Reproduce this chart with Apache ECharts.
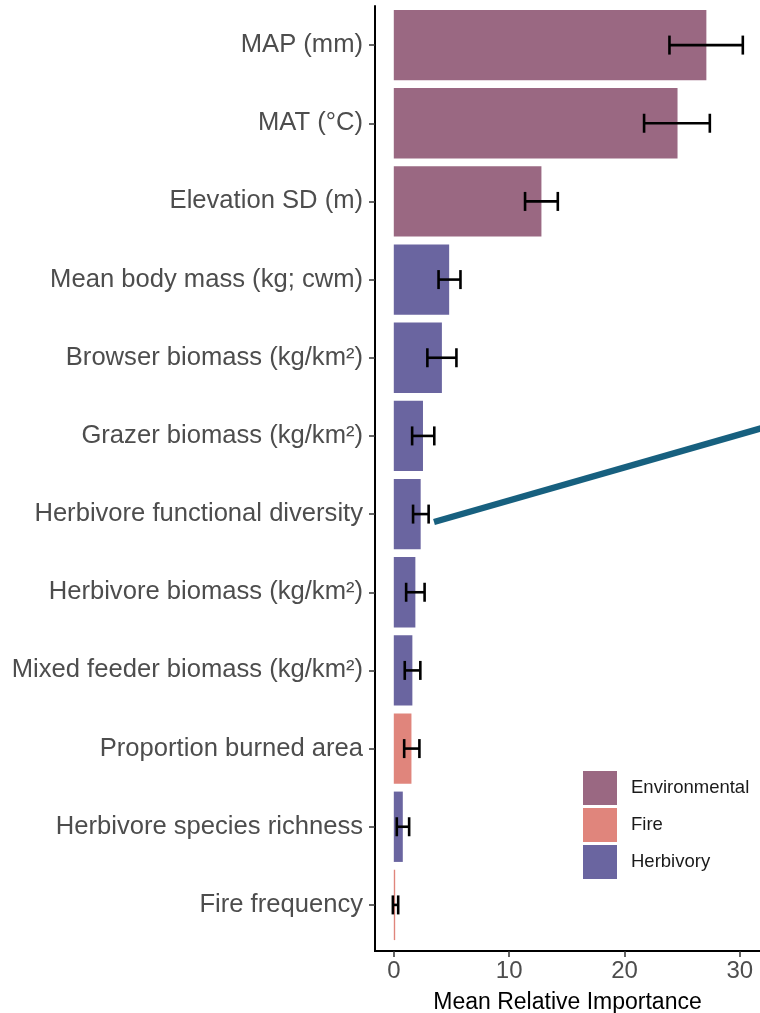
<!DOCTYPE html>
<html>
<head>
<meta charset="utf-8">
<script src="https://cdn.jsdelivr.net/npm/echarts@6/dist/echarts.min.js"></script>
<style>
  html, body { margin: 0; padding: 0; background: #fff; }
  #chart { width: 760px; height: 1013px; }
</style>
</head>
<body>
<div id="chart"></div>
<script>
// predictors, top to bottom
const categories = [
  'MAP (mm)', 'MAT (°C)', 'Elevation SD (m)', 'Mean body mass (kg; cwm)',
  'Browser biomass (kg/km²)', 'Grazer biomass (kg/km²)', 'Herbivore functional diversity',
  'Herbivore biomass (kg/km²)', 'Mixed feeder biomass (kg/km²)', 'Proportion burned area',
  'Herbivore species richness', 'Fire frequency'
];
const groups = [
  'Environmental', 'Environmental', 'Environmental', 'Herbivory',
  'Herbivory', 'Herbivory', 'Herbivory',
  'Herbivory', 'Herbivory', 'Fire',
  'Herbivory', 'Fire'
];
const meanImportance = [27.1, 24.6, 12.8, 4.8, 4.17, 2.53, 2.33, 1.87, 1.61, 1.53, 0.78, 0.12];
const errLow  = [23.9, 21.7, 11.38, 3.88, 2.91, 1.59, 1.67, 1.07, 0.95, 0.90, 0.26, -0.08];
const errHigh = [30.26, 27.4, 14.22, 5.78, 5.43, 3.51, 3.02, 2.67, 2.30, 2.22, 1.33, 0.38];
const groupNames = ['Environmental', 'Fire', 'Herbivory'];
const groupColors = ['#9a6882', '#e0857c', '#6a65a0'];
const xTicks = [0, 10, 20, 30];

const chart = echarts.init(document.getElementById('chart'));

const barSeries = groupNames.map(function (g, k) {
  return {
    name: g,
    type: 'bar',
    stack: 'all',
    barWidth: '90%',
    itemStyle: { color: groupColors[k] },
    data: meanImportance.map(function (v, i) { return groups[i] === g ? v : '-'; })
  };
});

const errorSeries = {
  type: 'custom',
  name: 'sd',
  z: 10,
  data: categories.map(function (c, i) { return [errLow[i], errHigh[i], i]; }),
  encode: { x: [0, 1], y: 2 },
  renderItem: function (params, api) {
    const p1 = api.coord([api.value(0), api.value(2)]);
    const p2 = api.coord([api.value(1), api.value(2)]);
    const h = 9.5;
    const style = { stroke: '#000', lineWidth: 2.6 };
    return {
      type: 'group',
      children: [
        { type: 'line', shape: { x1: p1[0], y1: p1[1], x2: p2[0], y2: p2[1] }, style: style },
        { type: 'line', shape: { x1: p1[0], y1: p1[1] - h, x2: p1[0], y2: p1[1] + h }, style: style },
        { type: 'line', shape: { x1: p2[0], y1: p2[1] - h, x2: p2[0], y2: p2[1] + h }, style: style }
      ]
    };
  }
};

chart.setOption({
  animation: false,
  textStyle: { fontFamily: 'Liberation Sans, Arial, sans-serif' },
  grid: { left: 375, right: 0, top: 6, bottom: 69, outerBoundsMode: 'none', containLabel: false },
  legend: {
    data: groupNames,
    orient: 'vertical',
    left: 583,
    top: 771,
    padding: 0,
    icon: 'rect',
    itemWidth: 34,
    itemHeight: 34,
    itemGap: 3,
    textStyle: { fontSize: 18.5, color: '#1a1a1a', padding: [0, 0, 0, 9] }
  },
  xAxis: {
    type: 'value',
    min: -1.63,
    max: 31.75,
    offset: 7,
    splitNumber: 3,
    name: 'Mean Relative Importance',
    nameLocation: 'middle',
    nameGap: 40,
    nameTextStyle: { fontSize: 23, color: '#000' },
    axisLine: { show: true, lineStyle: { color: '#000', width: 2 } },
    axisTick: {
      show: true, length: 6, lineStyle: { color: '#333', width: 1.5 },
      customValues: xTicks
    },
    axisLabel: {
      fontSize: 24, color: '#4d4d4d', margin: 8,
      customValues: xTicks
    },
    splitLine: { show: false }
  },
  yAxis: {
    type: 'category',
    inverse: true,
    data: categories,
    axisLine: { show: true, onZero: false, lineStyle: { color: '#000', width: 2 } },
    axisTick: { show: true, alignWithLabel: true, length: 6, lineStyle: { color: '#333', width: 1.5 } },
    axisLabel: { fontSize: 25.6, color: '#4d4d4d', margin: 12 },
    splitLine: { show: false }
  },
  graphic: [
    // bottom bit of the left axis line down to the offset x axis
    { type: 'line', shape: { x1: 375, y1: 944, x2: 375, y2: 952 }, style: { stroke: '#000', lineWidth: 2 }, z: 20 },
    // annotation stroke
    { type: 'line', shape: { x1: 434, y1: 522, x2: 762, y2: 428 }, style: { stroke: '#17607f', lineWidth: 6.5 }, z: 30 }
  ],
  series: barSeries.concat([errorSeries])
});
</script>
</body>
</html>
